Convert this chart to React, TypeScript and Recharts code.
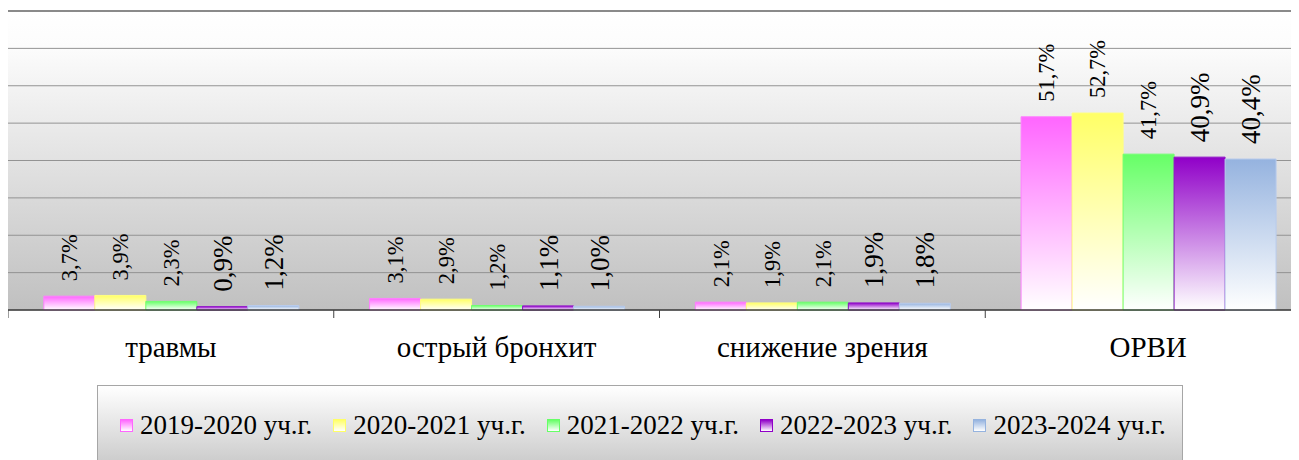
import { BarChart, Bar, XAxis, YAxis, CartesianGrid, LabelList, ReferenceLine } from "recharts";

const categories = ["травмы", "острый бронхит", "снижение зрения", "ОРВИ"];
const seriesNames = [
  "2019-2020 уч.г.",
  "2020-2021 уч.г.",
  "2021-2022 уч.г.",
  "2022-2023 уч.г.",
  "2023-2024 уч.г.",
];
const s2019 = [3.7, 3.1, 2.1, 51.7];
const s2020 = [3.9, 2.9, 1.9, 52.7];
const s2021 = [2.3, 1.2, 2.1, 41.7];
const s2022 = [0.9, 1.1, 1.9, 40.9];
const s2023 = [1.2, 1.0, 1.8, 40.4];
const yTicks = [0, 10, 20, 30, 40, 50, 60, 70, 80];

const colors = ["#ff66ff", "#ffff66", "#66ff66", "#9000c8", "#95b3df"];
const strokes = ["#ff80ff", "#ffff80", "#70ff70", "#9010c8", "#b8cbec"];
const labelSizes = [22.5, 22.5, 22.5, 27, 27];

const seriesValues = [s2019, s2020, s2021, s2022, s2023];
const data = categories.map((name, i) => {
  const row: Record<string, number | string> = { name };
  seriesValues.forEach((vals, s) => {
    row["s" + s] = vals[i];
  });
  return row;
});

const CHART_W = 1303;
const PLOT_W = CHART_W;
const HALF_BAND = PLOT_W / categories.length / 2;
const FONT = '"Liberation Serif", "Times New Roman", serif';

const CategoryTick = (props: any) => {
  const { x, y, payload, index } = props;
  return (
    <g>
      <line x1={x - HALF_BAND} y1={y} x2={x - HALF_BAND} y2={y + 8} stroke="#404040" strokeWidth={1} />
      {index === categories.length - 1 && (
        <line x1={x + HALF_BAND} y1={y} x2={x + HALF_BAND} y2={y + 8} stroke="#404040" />
      )}
      <text x={x} y={y + 47} textAnchor="middle" style={{ fontFamily: FONT }} fontSize={29} fill="#000">
        {payload.value}
      </text>
    </g>
  );
};

const makeLabel = (size: number) => (props: any) => {
  const { x, y, width, value } = props;
  const cx = x + width / 2;
  const ty = y - 15;
  return (
    <text
      x={cx}
      y={ty}
      dy="0.35em"
      transform={`rotate(-90 ${cx} ${ty})`}
      style={{ fontFamily: FONT }}
      fontSize={size}
      fill="#000"
      textAnchor="start"
    >
      {Number(value).toFixed(1).replace(".", ",") + "%"}
    </text>
  );
};

export default function App() {
  return (
    <div style={{ position: "relative", width: 1291, height: 452, overflow: "hidden", fontFamily: FONT }}>
      <BarChart
        width={CHART_W}
        height={360}
        data={data}
        margin={{ top: 3, right: 0, bottom: 0, left: 0 }}
        barCategoryGap="11%"
        barGap={0}
      >
        <defs>
          <linearGradient id="plotBg" x1="0" y1="0" x2="0" y2="1">
            <stop offset="0%" stopColor="#ffffff" />
            <stop offset="12%" stopColor="#fcfcfc" />
            <stop offset="100%" stopColor="#c0c0c0" />
          </linearGradient>
          {colors.map((c, i) => (
            <linearGradient key={i} id={"barGrad" + i} x1="0" y1="0" x2="0" y2="1">
              <stop offset="0%" stopColor={c} />
              <stop offset="100%" stopColor="#ffffff" />
            </linearGradient>
          ))}
        </defs>
        <CartesianGrid vertical={false} stroke="#939393" fill="url(#plotBg)" fillOpacity={1} />
        <YAxis
          width={0}
          domain={[0, 80]}
          ticks={yTicks}
          tick={() => <g />}
          tickLine={false}
          axisLine={{ stroke: "#8a8a8a", strokeWidth: 1.5 }}
        />
        <XAxis
          dataKey="name"
          height={58}
          tickSize={0}
          tickMargin={0}
          tickLine={false}
          axisLine={{ stroke: "#404040", strokeWidth: 1.5 }}
          tick={<CategoryTick />}
          interval={0}
        />
        <ReferenceLine y={80} stroke="#8a8a8a" strokeWidth={2} />
        {seriesNames.map((n, i) => (
          <Bar
            key={n}
            dataKey={"s" + i}
            name={n}
            fill={`url(#barGrad${i})`}
            stroke={strokes[i]}
            strokeWidth={1}
            isAnimationActive={false}
          >
            <LabelList dataKey={"s" + i} content={makeLabel(labelSizes[i])} />
          </Bar>
        ))}
      </BarChart>
      <div
        style={{
          position: "absolute",
          left: 89,
          top: 377,
          width: 1086,
          height: 90,
          border: "1px solid #a6a6a6",
          background: "linear-gradient(#ffffff, #c4c4c4)",
          fontSize: 27,
          boxSizing: "border-box",
        }}
      >
        <div style={{ position: "absolute", left: 22, top: 24, display: "flex", alignItems: "center", whiteSpace: "nowrap" }}>
          {seriesNames.map((n, i) => (
            <div key={n} style={{ display: "flex", alignItems: "center", marginRight: 21 }}>
              <span
                style={{
                  display: "inline-block",
                  width: 11,
                  height: 11,
                  border: `1.5px solid ${colors[i]}`,
                  background: `linear-gradient(${colors[i]}, #ffffff)`,
                  marginRight: 7,
                }}
              />
              <span>{n}</span>
            </div>
          ))}
        </div>
      </div>
    </div>
  );
}
